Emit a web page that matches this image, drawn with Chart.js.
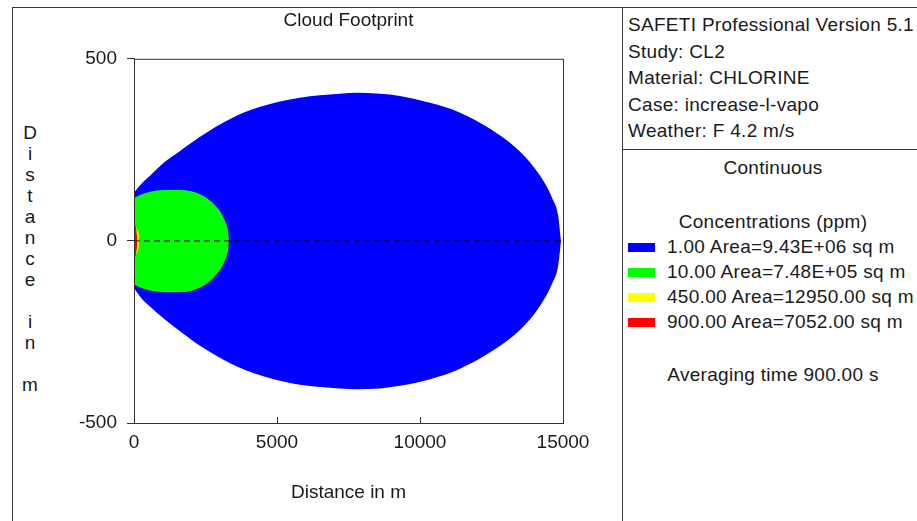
<!DOCTYPE html>
<html>
<head>
<meta charset="utf-8">
<script src="https://cdn.jsdelivr.net/npm/chart.js@4.4.0/dist/chart.umd.min.js"></script>
<style>
  html, body { margin: 0; padding: 0; background: #fff; overflow: hidden; }
  #wrap { position: relative; width: 917px; height: 521px; font-family: "Liberation Sans", Arial, sans-serif; color: #1a1a1a; }
  #wrap canvas { position: absolute; left: 0; top: 0; }
  .ln { position: absolute; background: #3a3a3a; }
  .txt { position: absolute; font-size: 19px; letter-spacing: 0.3px; white-space: nowrap; line-height: 22px; }
  .ctr { left: 622px; width: 302px; text-align: center; }
  .sw { position: absolute; left: 628px; width: 27px; height: 9px; }
  #ylab { position: absolute; left: 20px; width: 20px; top: 122px; font-size: 19px; line-height: 21px; text-align: center; }
</style>
</head>
<body>
<div id="wrap">
  <div class="ln" style="left:12px;top:7px;width:905px;height:1px"></div>
  <div class="ln" style="left:12px;top:7px;width:1px;height:514px"></div>
  <div class="ln" style="left:622px;top:7px;width:1px;height:514px"></div>
  <div class="ln" style="left:622px;top:149px;width:295px;height:1px"></div>
  <div id="ylab"></div>
  <div id="panel"></div>
  <canvas id="myChart" width="917" height="521"></canvas>
</div>
<script>
// Cloud footprint contours, distance downwind (m) vs crosswind (m)
var xTicks = [0, 5000, 10000, 15000];
var yTicks = [-500, 0, 500];

var levels = ['1.00', '10.00', '450.00', '900.00'];
var areas = ['9.43E+06', '7.48E+05', '12950.00', '7052.00'];

var blueUpper = [[0,132],[140,146],[320,162],[560,179],[1080,217],[1610,247],[2310,286],[3360,335],[4410,368],[5800,393],[7200,404],[7800,407],[8600,404],[9300,398],[10350,379],[11400,352],[12450,308],[13500,245],[14200,179],[14620,118],[14830,69],[14930,0]];
var blueLower = [[0,-130],[140,-145],[320,-163],[560,-180],[1080,-216],[1610,-248],[2310,-288],[3360,-336],[4410,-369],[5800,-395],[7200,-405],[7800,-407],[8600,-405],[9300,-398],[10350,-380],[11400,-351],[12450,-306],[13500,-244],[14200,-178],[14620,-117],[14830,-68],[14930,0]];
var greenUpper = [[0,118],[210,126],[560,135],[910,139],[1260,140],[1610,140],[1960,137],[2310,128],[2550,117],[2760,104],[2940,88],[3080,72],[3180,55],[3250,40],[3300,20],[3320,0]];
var greenLower = [[0,-120],[210,-128],[560,-136],[910,-140],[1260,-141],[1610,-141],[1960,-138],[2310,-128],[2550,-117],[2760,-103],[2940,-87],[3080,-71],[3180,-54],[3250,-39],[3300,-20],[3320,0]];
var yellowUpper = [[0,35],[60,36],[120,30],[170,15],[190,0]];
var yellowLower = [[0,-35],[60,-36],[120,-30],[170,-15],[190,0]];
var redUpper = [[0,48],[40,44],[80,32],[105,12],[110,0]];
var redLower = [[0,-48],[40,-44],[80,-32],[105,-12],[110,0]];
var centreLine = [[0,0],[15000,0]];

var fillColours = ['#0000ff', '#00ff00', '#ffff00', '#ff0000'];
var FONT = '"Liberation Sans", Arial, sans-serif';

function pts(arr) {
    return arr.map(function(p) { return {x: p[0], y: p[1]}; });
}

function band(upper, lower, colour, order) {
    var common = {showLine: true, pointRadius: 0, borderWidth: 0, borderColor: colour,
                  backgroundColor: colour, cubicInterpolationMode: 'monotone', order: order};
    return [
        Object.assign({data: pts(upper), fill: '+1'}, common),
        Object.assign({data: pts(lower), fill: false}, common)
    ];
}

var datasets = [].concat(
    band(blueUpper, blueLower, fillColours[0], 4),
    band(greenUpper, greenLower, fillColours[1], 3),
    band(yellowUpper, yellowLower, fillColours[2], 2),
    band(redUpper, redLower, fillColours[3], 1),
    [{data: pts(centreLine), showLine: true, pointRadius: 0, borderWidth: 1, borderColor: '#000',
      borderDash: [6, 4], fill: false, order: 0}]
);

// box round the plot and the inward ticks on the x axis
var frame = {
    id: 'frame',
    afterDatasetsDraw: function(chart) {
        var a = chart.chartArea, ctx = chart.ctx, xs = chart.scales.x;
        ctx.save();
        ctx.strokeStyle = '#333';
        ctx.lineWidth = 1;
        ctx.strokeRect(a.left + 0.5, a.top + 0.5, a.right - a.left, a.bottom - a.top);
        ctx.beginPath();
        xTicks.forEach(function(v) {
            var px = Math.round(xs.getPixelForValue(v)) + 0.5;
            ctx.moveTo(px, a.bottom);
            ctx.lineTo(px, a.bottom - 6);
        });
        ctx.stroke();
        ctx.restore();
    }
};

var chart = new Chart(document.getElementById('myChart').getContext('2d'), {
    type: 'scatter',
    data: {datasets: datasets},
    plugins: [frame],
    options: {
        responsive: false,
        animation: false,
        layout: {padding: {left: 60, right: 354, top: 0, bottom: 0}},
        plugins: {
            legend: {display: false},
            tooltip: {enabled: false},
            title: {
                display: true, text: 'Cloud Footprint', fullSize: false, color: '#1a1a1a',
                font: {family: FONT, size: 19, weight: 'normal'}, padding: {top: 9, bottom: 27}
            }
        },
        scales: {
            x: {
                type: 'linear', min: 0, max: 15000,
                afterBuildTicks: function(s) { s.ticks = xTicks.map(function(v) { return {value: v}; }); },
                afterFit: function(s) { s.height = 98; },
                ticks: {color: '#1a1a1a', font: {family: FONT, size: 19}, padding: 8, maxRotation: 0,
                        callback: function(v) { return String(v); }},
                grid: {display: false, drawTicks: false},
                border: {display: true, color: '#333'},
                title: {display: true, text: 'Distance in m', color: '#1a1a1a',
                        font: {family: FONT, size: 19}, padding: {top: 0, bottom: 17}}
            },
            y: {
                type: 'linear', min: -500, max: 500,
                afterBuildTicks: function(s) { s.ticks = yTicks.map(function(v) { return {value: v}; }); },
                afterFit: function(s) { s.width = 74; },
                ticks: {color: '#1a1a1a', font: {family: FONT, size: 19}, padding: 10,
                        callback: function(v) { return String(v); }},
                grid: {display: true, drawOnChartArea: false, drawTicks: true, tickLength: 7, color: '#333'},
                border: {display: true, color: '#333'}
            }
        }
    }
});

// stacked y label
document.getElementById('ylab').innerHTML = 'Distance in m'.split('').map(function(c) {
    return c === ' ' ? '&nbsp;' : c;
}).join('<br>');

// information panel on the right
var info = ['SAFETI Professional Version 5.1', 'Study: CL2', 'Material: CHLORINE', 'Case: increase-l-vapo', 'Weather: F 4.2 m/s'];
var html = '';
info.forEach(function(t, i) {
    html += '<div class="txt" style="left:628px;top:' + (14 + i * 26.6) + 'px">' + t + '</div>';
});
html += '<div class="txt ctr" style="top:157px">Continuous</div>';
html += '<div class="txt ctr" style="top:211px">Concentrations (ppm)</div>';
levels.forEach(function(l, i) {
    var y = 247 + i * 25;
    html += '<div class="sw" style="top:' + (y - 4) + 'px;background:' + fillColours[i] + '"></div>';
    html += '<div class="txt" style="left:667px;top:' + (y - 11) + 'px">' + l + ' Area=' + areas[i] + ' sq m</div>';
});
html += '<div class="txt ctr" style="top:364px">Averaging time 900.00 s</div>';
document.getElementById('panel').innerHTML = html;
</script>
</body>
</html>
